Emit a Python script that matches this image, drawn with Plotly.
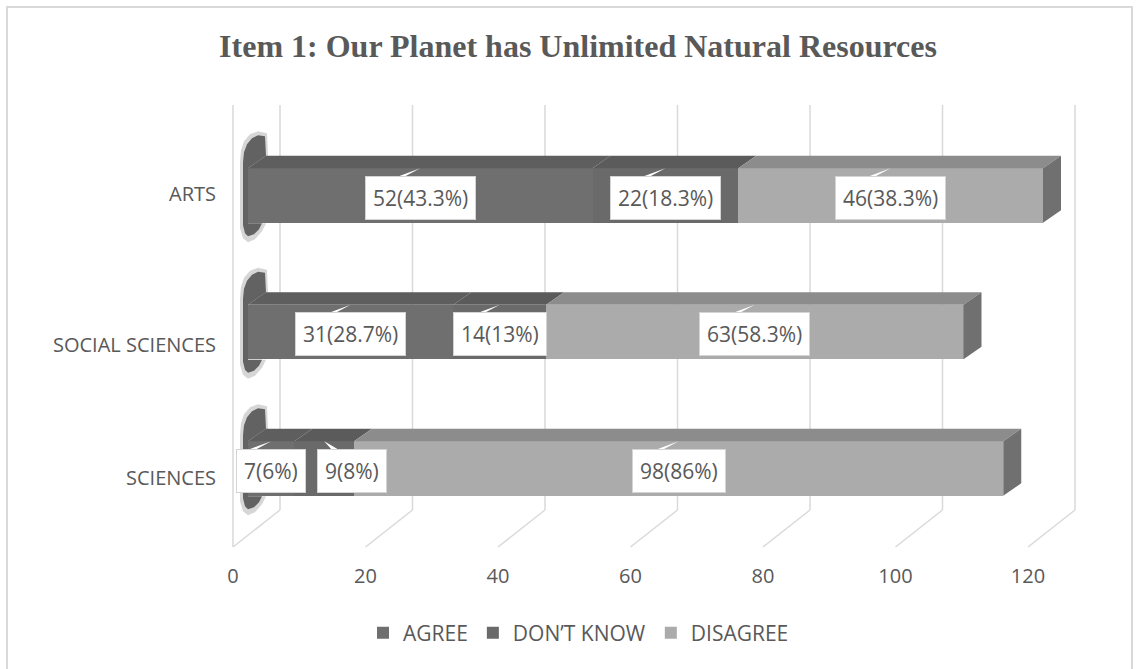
import plotly.graph_objects as go

# ---- data -------------------------------------------------------------
categories = ["SCIENCES", "SOCIAL SCIENCES", "ARTS"]
agree = [7, 31, 52]
dont_know = [9, 14, 22]
disagree = [98, 63, 46]
agree_pct = ["6", "28.7", "43.3"]
dont_know_pct = ["8", "13", "18.3"]
disagree_pct = ["86", "58.3", "38.3"]
series_names = ["AGREE", "DON\u2019T KNOW", "DISAGREE"]
x_ticks = [0, 20, 40, 60, 80, 100, 120]

# ---- styling ----------------------------------------------------------
W, H = 1139, 669
FONT = "Open Sans"
TXT = "#595959"
front_colors = ["#6f6f6f", "#6a6a6a", "#ababab"]
top_colors = ["#5e5e5e", "#5b5b5b", "#8c8c8c"]
SIDE = "#707070"
GRID = "#d9d9d9"

# pixel geometry of the 3-D frame
X0_PX, PX_UNIT = 248.0, 6.625          # bar front faces
Y0_PX, PX_CAT = 468.5, 136.5           # category centres
FLOOR_SHIFT = -15.0 / PX_UNIT          # front floor edge vs bar faces
BACK_SHIFT = 32.0 / PX_UNIT            # back wall vs bar faces
BAR_W = 0.4
DX = 18.0 / PX_UNIT                    # depth offset (x)
DY = 12.5 / PX_CAT                     # depth offset (y)
LABEL_DROP = [9.5, 13.0, -1.5]         # category label offset below bar (px)


def xd(px):
    return (px - X0_PX) / PX_UNIT


def yd(py):
    return (Y0_PX - py) / PX_CAT


def yp(py):
    return 1 - py / H


xrange_main = [xd(0), xd(W)]
yrange_main = [yd(H), yd(0)]
ypos = list(range(len(categories)))
label_pos = [i - d / PX_CAT for i, d in zip(ypos, LABEL_DROP)]

fig = go.Figure()

# soft shadow at the left end of every bar (kept off the front face):
# a faint outer halo and a darker core, offsets in px from the face corner
halo = [(-8, -6), (-7, -18), (-4, -27), (2, -34), (10, -37), (19, -35),
        (20, -12.5), (0, 0), (0, 55), (18, 55), (14, 63), (7, 71), (0, 74),
        (-5, 70), (-8, 60), (-8, -6)]
core = [(-5, -6), (-4, -16), (-1, -24), (4, -30), (10, -33), (17, -32),
        (18, -12.5), (0, 0), (0, 55), (14, 55), (11, 61), (6, 66), (0, 68),
        (-3, 65), (-5, 57), (-5, -6)]
for pts, col in ((halo, "rgba(120,120,120,0.3)"), (core, "rgba(82,82,82,0.88)")):
    xs, ys = [], []
    for i in ypos:
        by = i + BAR_W / 2
        xs += [dx / PX_UNIT for dx, dy in pts] + [None]
        ys += [by - dy / PX_CAT for dx, dy in pts] + [None]
    fig.add_trace(go.Scatter(x=xs, y=ys, mode="lines", line=dict(width=0),
                             fill="toself", fillcolor=col,
                             hoverinfo="skip", showlegend=False))

# front faces
values = [agree, dont_know, disagree]
for name, vals, col in zip(series_names, values, front_colors):
    fig.add_trace(go.Bar(
        y=ypos, x=vals, orientation="h", name=name, width=BAR_W,
        marker=dict(color=col, line=dict(width=0)), hoverinfo="skip"))

# top faces of every segment
starts = [[0] * 3, agree, [a + d for a, d in zip(agree, dont_know)]]
for s, (vals, col) in enumerate(zip(values, top_colors)):
    xs, ys = [], []
    for i in ypos:
        x0 = starts[s][i]
        x1 = x0 + vals[i]
        yt = i + BAR_W / 2
        xs += [x0, x1, x1 + DX, x0 + DX, x0, None]
        ys += [yt, yt, yt + DY, yt + DY, yt, None]
    fig.add_trace(go.Scatter(x=xs, y=ys, mode="lines", line=dict(width=0),
                             fill="toself", fillcolor=col,
                             hoverinfo="skip", showlegend=False))

# right-hand end faces
xs, ys = [], []
for i in ypos:
    t = agree[i] + dont_know[i] + disagree[i]
    yb, yt = i - BAR_W / 2, i + BAR_W / 2
    xs += [t, t, t + DX, t + DX, t, None]
    ys += [yb, yt, yt + DY, yb + DY, yb, None]
fig.add_trace(go.Scatter(x=xs, y=ys, mode="lines", line=dict(width=0),
                         fill="toself", fillcolor=SIDE,
                         hoverinfo="skip", showlegend=False))

# invisible trace carrying the floor axis
fig.add_trace(go.Scatter(x=[60], y=[-5], xaxis="x2", mode="markers",
                         marker=dict(opacity=0), hoverinfo="skip",
                         showlegend=False))

# data callouts
pcts = [agree_pct, dont_know_pct, disagree_pct]
shifts = {(1, 0): 28}
wx, wy = [], []
for s in range(3):
    for i in ypos:
        c = starts[s][i] + values[s][i] / 2
        sh = shifts.get((s, i), 0)
        fig.add_annotation(
            x=c, y=i, xref="x", yref="y", xshift=sh, yshift=-2,
            text=f"{values[s][i]}({pcts[s][i]}%)", showarrow=False,
            font=dict(family=FONT, size=21, color=TXT),
            bgcolor="white", bordercolor="#d4d4d4", borderwidth=1,
            borderpad=7)
        # pointer wedge from the box to the top edge of the segment
        yt = i + BAR_W / 2
        ybase = i + 15.0 / PX_CAT
        if sh > 0:
            b0, b1 = c + 11 / PX_UNIT, c + 21 / PX_UNIT
        else:
            b0, b1 = c - 33 / PX_UNIT, c - 23 / PX_UNIT
        wx += [c, b0, b1, c, None]
        wy += [yt, ybase, ybase, yt, None]
fig.add_trace(go.Scatter(x=wx, y=wy, mode="lines", line=dict(width=0),
                         fill="toself", fillcolor="white",
                         hoverinfo="skip", showlegend=False))

# 3-D frame: floor diagonals, back wall gridlines, left edge
shapes = []
FRONT_Y, BACK_Y, TOP_Y = 547.0, 510.0, 105.0
for t in x_ticks:
    xf = t + FLOOR_SHIFT
    xb = t + BACK_SHIFT
    shapes.append(dict(type="line", xref="x", yref="paper", x0=xf, x1=xb,
                       y0=yp(FRONT_Y), y1=yp(BACK_Y),
                       line=dict(color=GRID, width=1.5), layer="below"))
    shapes.append(dict(type="line", xref="x", yref="paper", x0=xb, x1=xb,
                       y0=yp(BACK_Y), y1=yp(TOP_Y),
                       line=dict(color=GRID, width=1.5), layer="below"))
shapes.append(dict(type="line", xref="x", yref="paper",
                   x0=x_ticks[0] + FLOOR_SHIFT, x1=x_ticks[0] + FLOOR_SHIFT,
                   y0=yp(FRONT_Y), y1=yp(TOP_Y),
                   line=dict(color=GRID, width=1.5), layer="below"))
# chart border
shapes.append(dict(type="rect", xref="paper", yref="paper",
                   x0=7 / W, x1=1132 / W, y0=yp(672), y1=yp(7),
                   line=dict(color="#d9d9d9", width=2), layer="below"))

fig.update_layout(
    width=W, height=H,
    margin=dict(l=0, r=0, t=0, b=0),
    paper_bgcolor="white", plot_bgcolor="white",
    barmode="stack",
    title=dict(text="<b>Item 1: Our Planet has Unlimited Natural Resources</b>",
               x=578 / W, xanchor="center", y=1 - 46 / H, yanchor="middle",
               yref="container",
               font=dict(family="Liberation Serif", size=32, color=TXT)),
    xaxis=dict(range=xrange_main, domain=[0, 1], visible=False,
               fixedrange=True),
    xaxis2=dict(range=[r - FLOOR_SHIFT for r in xrange_main], domain=[0, 1],
                anchor="free", position=yp(562), overlaying="x",
                tickvals=x_ticks, ticks="", showgrid=False, zeroline=False,
                showline=False,
                tickfont=dict(family=FONT, size=20, color=TXT)),
    yaxis=dict(range=yrange_main, domain=[0, 1], anchor="free",
               position=216 / W, tickvals=label_pos, ticktext=categories,
               ticks="", showgrid=False, zeroline=False, showline=False,
               tickfont=dict(family=FONT, size=20, color=TXT)),
    legend=dict(orientation="h", x=0.5 + 9 / W, xanchor="center",
                y=yp(633), yanchor="middle",
                font=dict(family=FONT, size=21, color=TXT),
                traceorder="normal"),
    shapes=shapes,
)

fig.write_html("out.html")
